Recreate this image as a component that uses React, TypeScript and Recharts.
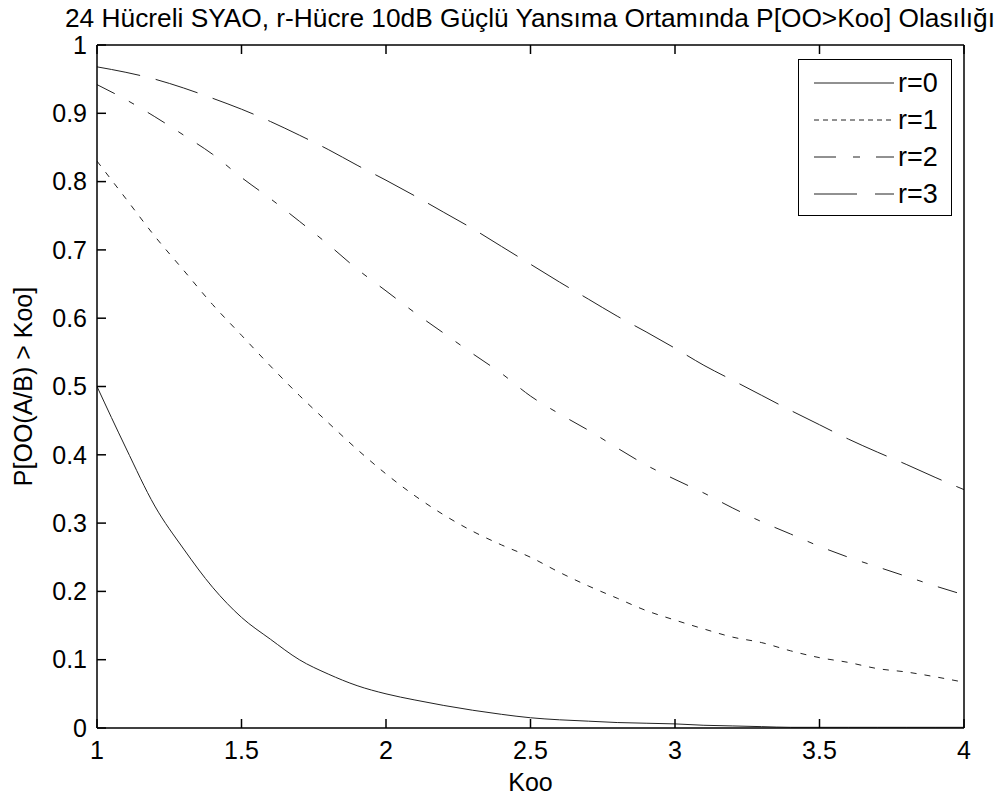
import { LineChart, Line, XAxis, YAxis, Legend } from 'recharts'

// Koo values (x axis) and P[OO > Koo] for r = 0..3 hücre
const koo = [1, 1.1, 1.2, 1.3, 1.4, 1.5, 1.6, 1.7, 1.8, 1.9, 2, 2.1, 2.2, 2.3, 2.4, 2.5, 2.6, 2.7, 2.8, 2.9, 3, 3.1, 3.2, 3.3, 3.4, 3.5, 3.6, 3.7, 3.8, 3.9, 4]
const r0 = [0.5, 0.41, 0.325, 0.262, 0.206, 0.162, 0.13, 0.1, 0.079, 0.062, 0.05, 0.041, 0.033, 0.026, 0.02, 0.015, 0.012, 0.01, 0.008, 0.007, 0.006, 0.004, 0.003, 0.002, 0.001, 0.001, 0.001, 0.001, 0.001, 0.001, 0.001]
const r1 = [0.83, 0.775, 0.72, 0.67, 0.62, 0.575, 0.53, 0.487, 0.447, 0.408, 0.372, 0.34, 0.312, 0.288, 0.268, 0.25, 0.228, 0.208, 0.19, 0.172, 0.158, 0.145, 0.133, 0.125, 0.113, 0.103, 0.096, 0.087, 0.082, 0.075, 0.067]
const r2 = [0.942, 0.92, 0.895, 0.868, 0.84, 0.806, 0.775, 0.742, 0.708, 0.672, 0.64, 0.608, 0.578, 0.548, 0.519, 0.486, 0.46, 0.436, 0.41, 0.385, 0.364, 0.344, 0.322, 0.302, 0.284, 0.266, 0.25, 0.236, 0.222, 0.208, 0.195]
const r3 = [0.968, 0.96, 0.95, 0.937, 0.922, 0.906, 0.888, 0.868, 0.847, 0.824, 0.802, 0.779, 0.755, 0.731, 0.705, 0.679, 0.653, 0.628, 0.603, 0.58, 0.556, 0.531, 0.509, 0.487, 0.465, 0.444, 0.423, 0.404, 0.386, 0.367, 0.349]

const xTicks = [1, 1.5, 2, 2.5, 3, 3.5, 4]
const yTicks = [0, 0.1, 0.2, 0.3, 0.4, 0.5, 0.6, 0.7, 0.8, 0.9, 1]
const seriesNames = ['r=0', 'r=1', 'r=2', 'r=3']
const title = '24 Hücreli SYAO, r-Hücre 10dB Güçlü Yansıma Ortamında P[OO>Koo] Olasılığı'

const data = koo.map((k, i) => ({ k, r0: r0[i], r1: r1[i], r2: r2[i], r3: r3[i] }))

const FONT = '"Liberation Sans", Arial, sans-serif'
const FS = 25
const INK = '#222'
const TICK = 9

const plotDash = ['', '6 8', '20 16 6 16', '44 16']
const legendDash = ['', '5 4', '22 17 7 16', '43 18']

const fmt = (v: number) => String(Math.round(v * 10) / 10)

// matlab-style ticks point into the plot, so draw line + label ourselves
function LeftTick({ x, y, payload }: any) {
  return (
    <g>
      <line x1={x + 10} x2={x + 10 + TICK} y1={y} y2={y} stroke="#000" strokeWidth={1.5} />
      <text x={x} y={y} dy="0.35em" textAnchor="end" fontFamily={FONT} fontSize={FS} fill="#000">{fmt(payload.value)}</text>
    </g>
  )
}

function BottomTick({ x, y, payload }: any) {
  return (
    <g>
      <line x1={x} x2={x} y1={y - 13} y2={y - 13 - TICK} stroke="#000" strokeWidth={1.5} />
      <text x={x} y={y} dy="0.72em" textAnchor="middle" fontFamily={FONT} fontSize={FS} fill="#000">{fmt(payload.value)}</text>
    </g>
  )
}

function TopTick({ x, y }: any) {
  return <line x1={x} x2={x} y1={y} y2={y + TICK} stroke="#000" strokeWidth={1.5} />
}

function RightTick({ x, y }: any) {
  return <line x1={x} x2={x - TICK} y1={y} y2={y} stroke="#000" strokeWidth={1.5} />
}

function renderLegend() {
  return (
    <svg width={154} height={157} style={{ display: 'block' }}>
      <rect x={0.5} y={0.5} width={153} height={156} fill="#fff" stroke="#000" strokeWidth={1} />
      {seriesNames.map((name, i) => {
        const cy = 24 + i * 37
        return (
          <g key={name}>
            <line x1={16} x2={96} y1={cy} y2={cy} stroke={INK} strokeWidth={1} strokeDasharray={legendDash[i]} />
            <text x={100} y={cy + 9} fontFamily={FONT} fontSize={27} fill="#000">{name}</text>
          </g>
        )
      })}
    </svg>
  )
}

export default function App() {
  return (
    <div style={{ position: 'absolute', left: 0, top: 0, width: 1000, height: 805, background: '#fff' }}>
      <svg width={1000} height={40} style={{ position: 'absolute', left: 0, top: 0 }}>
        <text x={530} y={27} textAnchor="middle" textLength={930} lengthAdjust="spacingAndGlyphs" fontFamily={FONT} fontSize={25} fill="#000">
          {title}
        </text>
      </svg>
      <LineChart width={1000} height={805} data={data} margin={{ top: 44, right: 35, bottom: 0, left: 0 }}>
        <XAxis
          dataKey="k"
          type="number"
          domain={[1, 4]}
          ticks={xTicks}
          interval={0}
          allowDataOverflow
          height={77}
          tickSize={0}
          tickMargin={13}
          axisLine={{ stroke: '#000', strokeWidth: 1.5 }}
          tickLine={false}
          tick={BottomTick}
          label={({ viewBox }: any) => (
            <text x={viewBox.x + viewBox.width / 2} y={791} textAnchor="middle" fontFamily={FONT} fontSize={FS} fill="#000">Koo</text>
          )}
        />
        <XAxis
          xAxisId="top"
          dataKey="k"
          type="number"
          orientation="top"
          domain={[1, 4]}
          ticks={xTicks}
          interval={0}
          allowDataOverflow
          height={1}
          tickSize={0}
          tickMargin={0}
          tick={TopTick}
          tickLine={false}
          axisLine={{ stroke: '#000', strokeWidth: 1.5 }}
        />
        <YAxis
          type="number"
          domain={[0, 1]}
          ticks={yTicks}
          interval={0}
          width={97}
          tickSize={0}
          tickMargin={10}
          axisLine={{ stroke: '#000', strokeWidth: 1.5 }}
          tickLine={false}
          tick={LeftTick}
          label={({ viewBox }: any) => {
            const cy = viewBox.y + viewBox.height / 2
            return (
              <text x={32} y={cy} transform={`rotate(-90, 32, ${cy})`} textAnchor="middle" fontFamily={FONT} fontSize={FS} fill="#000">
                P[OO(A/B) &gt; Koo]
              </text>
            )
          }}
        />
        <YAxis
          yAxisId="right"
          type="number"
          orientation="right"
          domain={[0, 1]}
          ticks={yTicks}
          interval={0}
          width={1}
          tickSize={0}
          tickMargin={0}
          tick={RightTick}
          tickLine={false}
          axisLine={{ stroke: '#000', strokeWidth: 1.5 }}
        />
        <Legend
          layout="vertical"
          align="center"
          verticalAlign="middle"
          content={renderLegend}
          wrapperStyle={{ position: 'absolute', top: 59, left: 798, width: 154, height: 157 }}
        />
        {['r0', 'r1', 'r2', 'r3'].map((key, i) => (
          <Line
            key={key}
            name={seriesNames[i]}
            dataKey={key}
            type="monotone"
            stroke={INK}
            strokeWidth={1}
            strokeDasharray={plotDash[i]}
            dot={false}
            activeDot={false}
            isAnimationActive={false}
          />
        ))}
      </LineChart>
    </div>
  )
}
